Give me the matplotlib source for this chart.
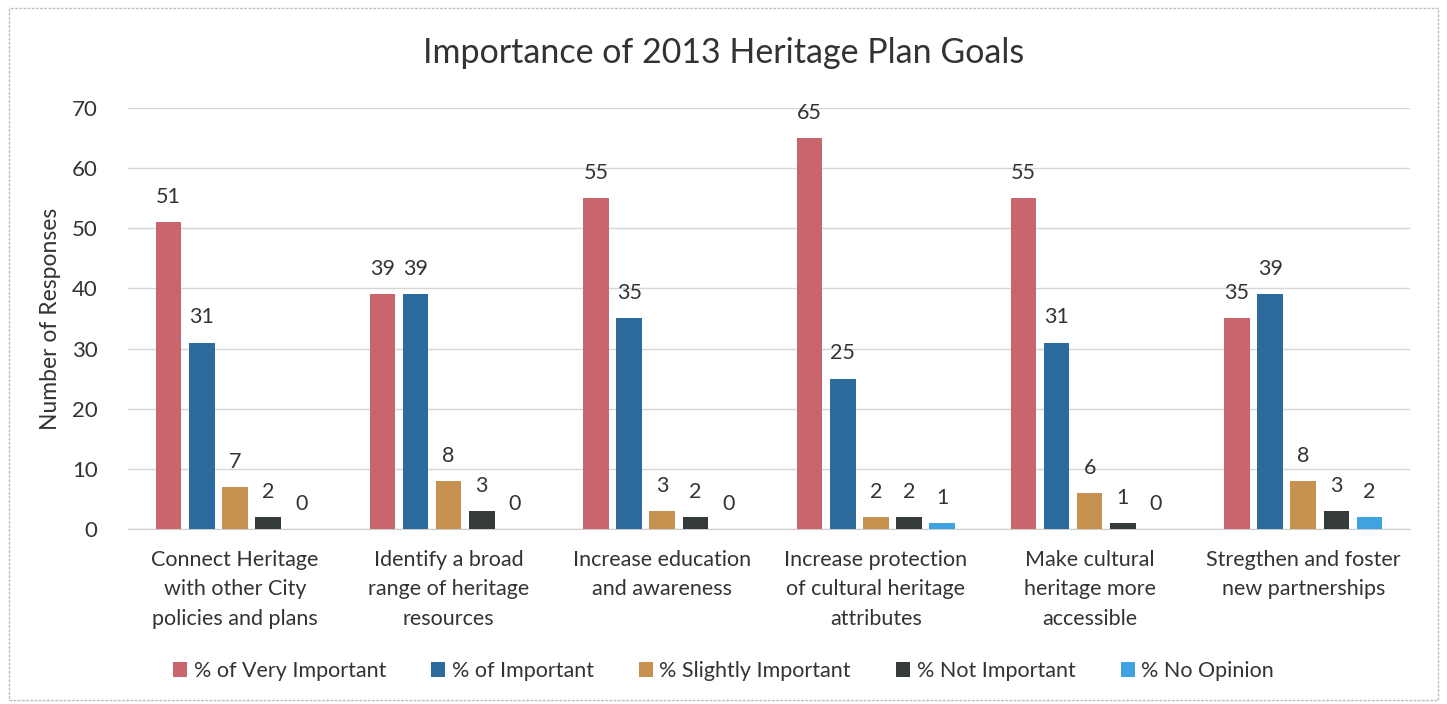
import matplotlib
matplotlib.use("Agg")
import matplotlib.pyplot as plt
from matplotlib.patches import Rectangle
import numpy as np

plt.rcParams['font.family'] = ['Lato', 'DejaVu Sans']

categories = [
    "Connect Heritage\nwith other City\npolicies and plans",
    "Identify a broad\nrange of heritage\nresources",
    "Increase education\nand awareness",
    "Increase protection\nof cultural heritage\nattributes",
    "Make cultural\nheritage more\naccessible",
    "Stregthen and foster\nnew partnerships",
]
series_names = ["% of Very Important", "% of Important", "% Slightly Important",
                "% Not Important", "% No Opinion"]
very_important = [51, 39, 55, 65, 55, 35]
important = [31, 39, 35, 25, 31, 39]
slightly_important = [7, 8, 3, 2, 6, 8]
not_important = [2, 3, 2, 2, 1, 3]
no_opinion = [0, 0, 0, 1, 0, 2]
yticks = [0, 10, 20, 30, 40, 50, 60, 70]

series = [very_important, important, slightly_important, not_important, no_opinion]
colors = ["#C9656C", "#2C6B9C", "#C79150", "#353B3B", "#3FA3E2"]

fig = plt.figure(figsize=(14.47, 7.04), dpi=100)
fig.patches.append(Rectangle((0.006, 0.006), 0.988, 0.982, transform=fig.transFigure,
                             fill=False, edgecolor="#BDBDBD", linewidth=1.0,
                             linestyle=(0, (2, 1))))
ax = fig.add_axes([0.0885, 0.2486, 0.886, 0.598])

x = np.arange(len(categories))
step = 0.155
width = 0.12
for i, (vals, col, name) in enumerate(zip(series, colors, series_names)):
    pos = x + (i - 2) * step
    ax.bar(pos, vals, width=width, color=col, label=name, zorder=3)
    for px, v in zip(pos, vals):
        ax.annotate(str(v), (px, v), xytext=(0, 11), textcoords="offset points",
                    ha="center", va="bottom", fontsize=15.5, color="#333333")

ax.set_xlim(-0.5, len(categories) - 0.5)
ax.set_ylim(0, 70)
ax.set_yticks(yticks)
ax.set_xticks(x)
ax.set_xticklabels(categories, fontsize=15.5, color="#333333", linespacing=1.6)
ax.tick_params(axis="y", labelsize=16, colors="#333333", length=0, pad=22)
ax.tick_params(axis="x", length=0, pad=15)
ax.grid(axis="y", color="#D6D6D6", linewidth=1.0, zorder=0)
for s in ["top", "right", "left"]:
    ax.spines[s].set_visible(False)
ax.spines["bottom"].set_color("#CCCCCC")
ax.set_ylabel("Number of Responses", fontsize=16.5, color="#333333", labelpad=8)

fig.suptitle("Importance of 2013 Heritage Plan Goals", fontsize=24.5, color="#333333",
             y=0.925, va="center")

fig.legend(loc="center", bbox_to_anchor=(0.5, 0.047), ncol=5, frameon=False,
           fontsize=15.5, handlelength=0.65, handleheight=0.65, handletextpad=0.3,
           columnspacing=2.1, labelcolor="#333333")

fig.savefig("out.png", dpi=100, facecolor="white")
